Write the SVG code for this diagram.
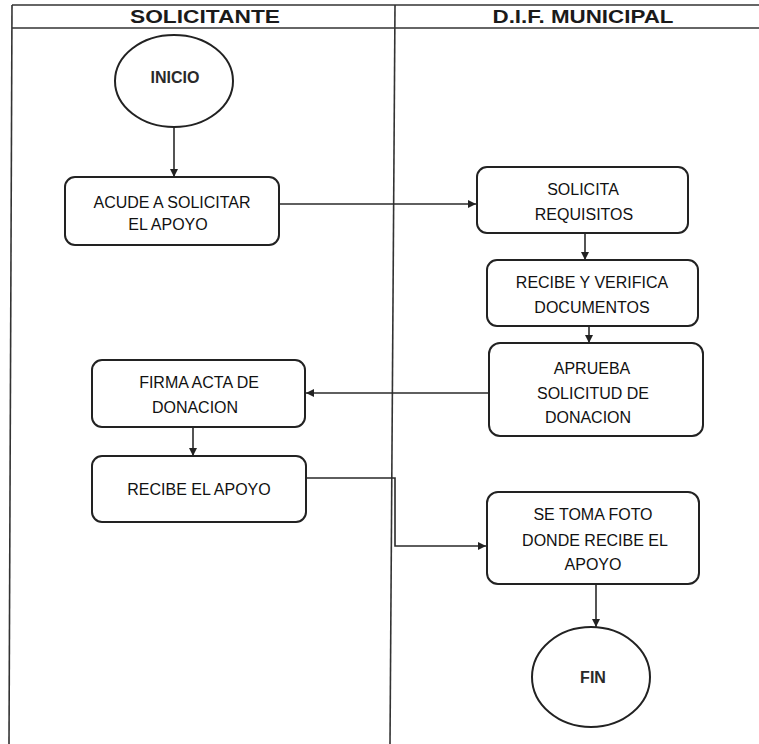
<svg xmlns="http://www.w3.org/2000/svg" width="759" height="744" viewBox="0 0 759 744">
<defs>
<marker id="arr" viewBox="0 0 10 10" refX="10" refY="5" markerWidth="8" markerHeight="8" markerUnits="userSpaceOnUse" orient="auto">
<path d="M0,0 L10,5 L0,10 z" fill="#222"/>
</marker>
<style>
.frame{stroke:#333;stroke-width:1.6;fill:none}
.box{fill:#fff;stroke:#222;stroke-width:2}
.term{fill:#fff;stroke:#222;stroke-width:2}
.conn{fill:none;stroke:#2a2a2a;stroke-width:1.6;marker-end:url(#arr)}
.hdr{font-family:"Liberation Sans",Arial,sans-serif;font-weight:bold;font-size:18px;fill:#1a1a1a;text-anchor:middle}
.lbl{font-family:"Liberation Sans",Arial,sans-serif;font-size:16px;fill:#111;text-anchor:middle}
.tlbl{font-family:"Liberation Sans",Arial,sans-serif;font-weight:bold;font-size:16px;fill:#2a2a2a;text-anchor:middle}
</style>
</defs>
<rect width="759" height="744" fill="#fff"/>
<g id="lanes">
<line class="frame" x1="12" y1="5" x2="759" y2="5"/>
<line class="frame" x1="12" y1="28" x2="759" y2="28"/>
<line class="frame" x1="12" y1="5" x2="9" y2="744"/>
<line class="frame" x1="395" y1="5" x2="390" y2="744"/>
<text class="hdr" x="205" y="23" textLength="150" lengthAdjust="spacingAndGlyphs">SOLICITANTE</text>
<text class="hdr" x="583" y="23" textLength="181" lengthAdjust="spacingAndGlyphs">D.I.F. MUNICIPAL</text>
</g>
<g id="connectors">
<line class="conn" x1="174" y1="127" x2="174" y2="177"/>
<line class="conn" x1="279" y1="204" x2="476" y2="204"/>
<line class="conn" x1="585" y1="233" x2="585" y2="260"/>
<line class="conn" x1="589" y1="326" x2="589" y2="343"/>
<line class="conn" x1="489" y1="393" x2="306" y2="393"/>
<line class="conn" x1="193" y1="427" x2="193" y2="456"/>
<polyline class="conn" points="306,478 395,478 395,546 486,546"/>
<line class="conn" x1="596" y1="584" x2="596" y2="627"/>
</g>
<g id="inicio">
<ellipse class="term" cx="174" cy="81" rx="59" ry="46"/>
<text class="tlbl" x="175" y="83">INICIO</text>
</g>
<g id="acude">
<rect class="box" x="65" y="177" width="214" height="68" rx="10"/>
<text class="lbl" x="172" y="208">ACUDE A SOLICITAR</text>
<text class="lbl" x="168" y="230">EL APOYO</text>
</g>
<g id="solicita">
<rect class="box" x="477" y="167" width="211" height="66" rx="10"/>
<text class="lbl" x="583" y="195">SOLICITA</text>
<text class="lbl" x="584" y="220">REQUISITOS</text>
</g>
<g id="recibe-verifica">
<rect class="box" x="487" y="260" width="211" height="66" rx="10"/>
<text class="lbl" x="592" y="288">RECIBE Y VERIFICA</text>
<text class="lbl" x="592" y="313">DOCUMENTOS</text>
</g>
<g id="aprueba">
<rect class="box" x="489" y="343" width="214" height="93" rx="11"/>
<text class="lbl" x="592" y="374">APRUEBA</text>
<text class="lbl" x="593" y="399">SOLICITUD DE</text>
<text class="lbl" x="588" y="423">DONACION</text>
</g>
<g id="firma">
<rect class="box" x="92" y="360" width="213" height="67" rx="10"/>
<text class="lbl" x="199" y="388">FIRMA ACTA DE</text>
<text class="lbl" x="195" y="413">DONACION</text>
</g>
<g id="recibe-apoyo">
<rect class="box" x="92" y="456" width="214" height="66" rx="10"/>
<text class="lbl" x="199" y="495">RECIBE EL APOYO</text>
</g>
<g id="foto">
<rect class="box" x="487" y="492" width="212" height="92" rx="11"/>
<text class="lbl" x="593" y="520">SE TOMA FOTO</text>
<text class="lbl" x="595" y="546">DONDE RECIBE EL</text>
<text class="lbl" x="593" y="570">APOYO</text>
</g>
<g id="fin">
<ellipse class="term" cx="591" cy="677" rx="59" ry="50"/>
<text class="tlbl" x="593" y="683">FIN</text>
</g>
</svg>
